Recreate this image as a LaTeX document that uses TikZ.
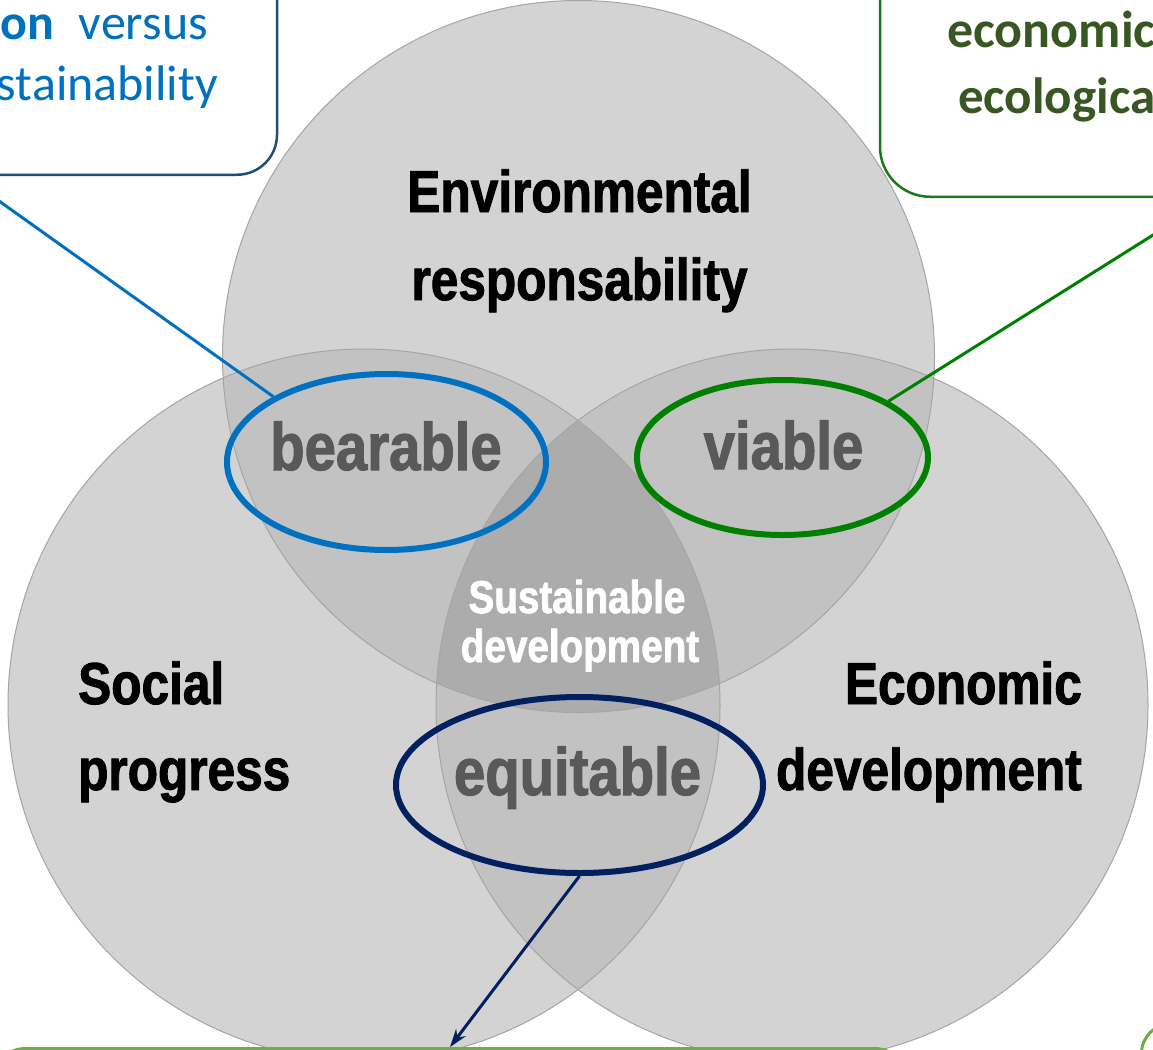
\documentclass[tikz,border=0pt]{standalone}
\usepackage{fontspec}
\usepackage{tikz}
\usetikzlibrary{
  shapes.geometric,
  arrows.meta}
\setmainfont{Carlito}
\newfontfamily\vennfont[FakeStretch=0.84, FakeBold=1.6]{Liberation Sans Bold}

\definecolor{vennone}{HTML}{D3D3D3}
\definecolor{venntwo}{HTML}{C2C2C2}
\definecolor{vennthree}{HTML}{ACACAC}
\definecolor{vennedge}{HTML}{A5A5A5}
\definecolor{bearblue}{HTML}{0070C0}
\definecolor{boxblue}{HTML}{1F4E79}
\definecolor{viagreen}{HTML}{008000}
\definecolor{boxgreen}{HTML}{1A7A1A}
\definecolor{textgreen}{HTML}{385723}
\definecolor{equinavy}{HTML}{002060}
\definecolor{lightgreen}{HTML}{70AD47}
\definecolor{labelgray}{HTML}{595959}

\tikzset{
  vennlabel/.style={font=\vennfont\fontsize{59}{59}\selectfont, inner sep=0pt},
  corelabel/.style={font=\vennfont\fontsize{46}{46}\selectfont, text=white, inner sep=0pt, anchor=base},
  ringlabel/.style={font=\vennfont\fontsize{67}{67}\selectfont, text=labelgray, inner sep=0pt, anchor=base},
  ring/.style={ellipse, draw, line width=6pt, inner sep=0pt},
  callout/.style={rectangle, draw, line width=2.5pt, fill=white, rounded corners=40pt},
  boxtext/.style={font=\fontsize{50}{50}\selectfont, inner sep=0pt},
}

\begin{document}
\begin{tikzpicture}[x=1pt, y=-1pt]
\useasboundingbox (0,0) rectangle (1153,1049);
\clip (0,0) rectangle (1153,1049);
\fill[white] (0,0) rectangle (1153,1049);

% the three circles
\coordinate (env) at (578.5,356.5);
\coordinate (soc) at (364,705);
\coordinate (eco) at (792,705);
\foreach \c in {env,soc,eco}
  \fill[vennone] (\c) circle[radius=356pt];
\begin{scope}
  \clip (env) circle[radius=356pt];
  \fill[venntwo] (soc) circle[radius=356pt] (eco) circle[radius=356pt];
\end{scope}
\begin{scope}
  \clip (soc) circle[radius=356pt];
  \fill[venntwo] (eco) circle[radius=356pt];
\end{scope}
\begin{scope}
  \clip (env) circle[radius=356pt];
  \clip (soc) circle[radius=356pt];
  \fill[vennthree] (eco) circle[radius=356pt];
\end{scope}
\foreach \c in {env,soc,eco}
  \draw[vennedge, line width=1pt] (\c) circle[radius=356pt];

% labels
\node[vennlabel, anchor=base] (envA) at (579.5,212) {Environmental};
\node[vennlabel, anchor=base] (envB) at (579.5,300) {responsability};
\node[vennlabel, anchor=base west] (socA) at (78,704) {Social};
\node[vennlabel, anchor=base west] (socB) at (78,790) {progress};
\node[vennlabel, anchor=base east] (ecoA) at (1082,704) {Economic};
\node[vennlabel, anchor=base east] (ecoB) at (1082,790) {development};
\node[corelabel] (coreA) at (577,613) {Sustainable};
\node[corelabel] (coreB) at (580,662) {development};
\node[ringlabel] (bearlabel) at (386,470) {bearable};
\node[ringlabel] (vialabel) at (783.5,469) {viable};
\node[ringlabel] (equilabel) at (577.5,795) {equitable};

% callout boxes
\node[callout, draw=boxblue, minimum width=626, minimum height=300, anchor=south] (convbox) at (-36,176) {};
\node[boxtext, text=bearblue, anchor=base east] (convA) at (208,40) {\textbf{on}\enspace versus};
\node[boxtext, text=bearblue, anchor=base east] (convB) at (218,100) {stainability};
\node[callout, draw=boxgreen, rounded corners=50pt, minimum width=664, minimum height=300, anchor=south] (ecobox) at (1212,198) {};
\node[boxtext, font=\bfseries\fontsize{52}{52}\selectfont, text=textgreen, anchor=base west] (ecoboxA) at (947,48) {economic};
\node[boxtext, font=\bfseries\fontsize{51}{51}\selectfont, text=textgreen, anchor=base west] (ecoboxB) at (958,113) {ecologica};
\node[callout, draw=lightgreen, line width=3pt, rounded corners=30pt, minimum width=910, minimum height=200, anchor=north] (defbox) at (450,1047) {};
\node[callout, draw=lightgreen, line width=3pt, rounded corners=30pt, minimum width=300, minimum height=200, anchor=north west] (notebox) at (1140,1022) {};

% rings and connectors
\node[ring, draw=bearblue, minimum width=319, minimum height=176] (bearring) at (386.5,462) {};
\node[ring, draw=viagreen, minimum width=291, minimum height=155] (viaring) at (782.5,457.5) {};
\node[ring, draw=equinavy, minimum width=367, minimum height=176] (equiring) at (579.5,785) {};
\draw[bearblue, line width=3pt] (convbox.south) -- (bearring.150);
\draw[viagreen, line width=3pt] (ecobox.south) -- (viaring.28);
\draw[equinavy, line width=3pt, -{Stealth[length=18pt, width=12pt]}] (equiring.south) -- (defbox.north);
\end{tikzpicture}
\end{document}
